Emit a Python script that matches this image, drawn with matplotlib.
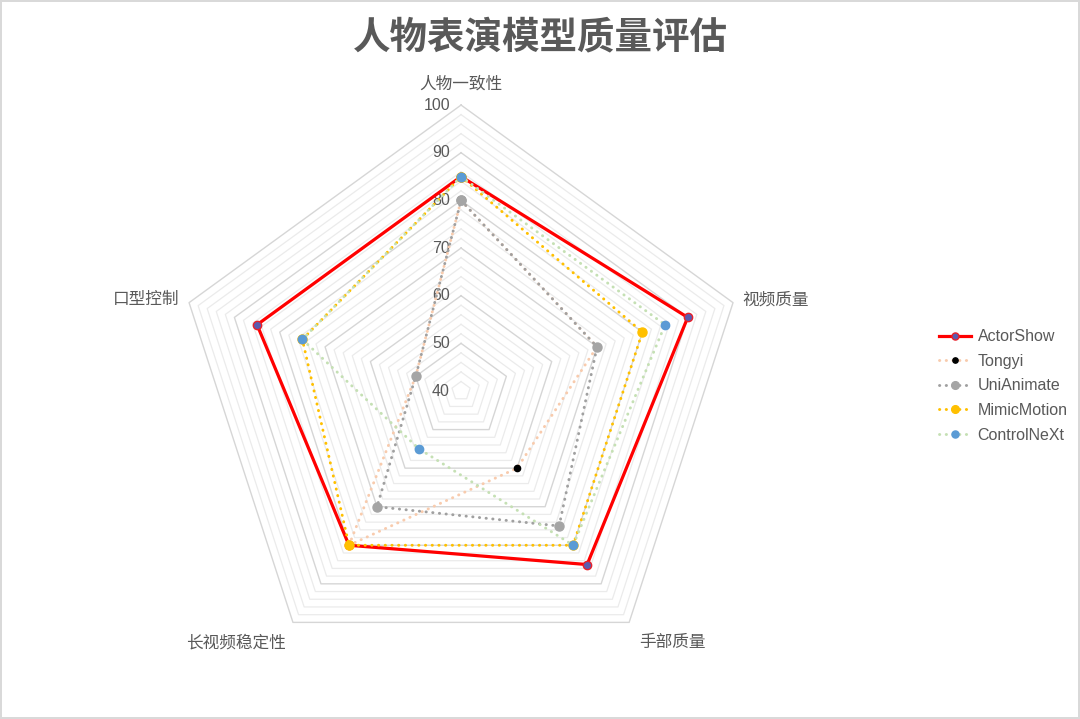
import numpy as np
import matplotlib.pyplot as plt

plt.rcParams['font.family'] = ['Liberation Sans', 'Noto Sans CJK SC']

# 维度与数据
categories = ["人物一致性", "视频质量", "手部质量", "长视频稳定性", "口型控制"]
actorshow = [85, 90, 85, 80, 85]
tongyi = [80, 70, 60, 80, 50]
unianimate = [80, 70, 75, 70, 50]
mimicmotion = [85, 80, 80, 80, 75]
controlnext = [85, 85, 80, 55, 75]
ticks = [40, 50, 60, 70, 80, 90, 100]

txt = "#595959"

angles = np.linspace(0, 2 * np.pi, len(categories), endpoint=False)
ang_closed = np.append(angles, angles[0])


def closed(vals):
    return np.append(vals, vals[0])


fig = plt.figure(figsize=(10.8, 7.19), dpi=100)
fig.patch.set_edgecolor("#D9D9D9")
fig.patch.set_linewidth(1.5)

ax = fig.add_axes([0.1621, 0.0584, 0.5296, 0.7955], projection="polar")
ax.set_theta_offset(np.pi / 2)
ax.set_theta_direction(-1)
ax.set_ylim(40, 100)
ax.axis("off")

# 五边形网格
for v in range(42, 101, 2):
    major = v % 10 == 0
    ax.plot(ang_closed, [v] * len(ang_closed),
            color="#D6D6D6" if major else "#EBEBEB",
            lw=1.0 if major else 0.9, zorder=1, clip_on=False)

# 刻度标签
for v in ticks:
    ax.annotate(str(v), xy=(0, v), xytext=(-8, 0), textcoords="offset points",
                ha="right", va="center", fontsize=11.5, color=txt)

# 维度标签
ax.annotate(categories[0], xy=(0, 100), xytext=(0, 15), textcoords="offset points",
            ha="center", va="center", fontsize=12, color=txt)
ax.annotate(categories[1], xy=(angles[1], 100), xytext=(7, 2), textcoords="offset points",
            ha="left", va="center", fontsize=12, color=txt)
ax.annotate(categories[2], xy=(angles[2], 100), xytext=(31, -14.5), textcoords="offset points",
            ha="center", va="center", fontsize=12, color=txt)
ax.annotate(categories[3], xy=(angles[3], 100), xytext=(-41, -14.5), textcoords="offset points",
            ha="center", va="center", fontsize=12, color=txt)
ax.annotate(categories[4], xy=(angles[4], 100), xytext=(-7, 2), textcoords="offset points",
            ha="right", va="center", fontsize=12, color=txt)

dot = (0, (0.1, 2.2))

ax.plot(ang_closed, closed(actorshow), color="#FF0000", lw=2.3, marker="o",
        ms=6, mfc="#5B5BAE", mec="#E8202A", mew=1.0, label="ActorShow",
        zorder=3, clip_on=False)
ax.plot(ang_closed, closed(tongyi), color="#F8CBAD", lw=2.1, ls=dot,
        dash_capstyle="round", marker="o", ms=4.5, mfc="black", mec="black",
        label="Tongyi", zorder=3, clip_on=False)
ax.plot(ang_closed, closed(unianimate), color="#A0A0A0", lw=2.1, ls=dot,
        dash_capstyle="round", marker="o", ms=6.5, mfc="#A5A5A5", mec="#A5A5A5",
        label="UniAnimate", zorder=3, clip_on=False)
ax.plot(ang_closed, closed(mimicmotion), color="#FFC000", lw=2.1, ls=dot,
        dash_capstyle="round", marker="o", ms=6.5, mfc="#FFC000", mec="#FFC000",
        label="MimicMotion", zorder=3, clip_on=False)
ax.plot(ang_closed, closed(controlnext), color="#C5E0B4", lw=2.1, ls=dot,
        dash_capstyle="round", marker="o", ms=6, mfc="#5B9BD5", mec="#5B9BD5",
        label="ControlNeXt", zorder=3, clip_on=False)

fig.legend(loc="center left", bbox_to_anchor=(925 / 1080, 1 - 386 / 719),
           frameon=False, fontsize=11.5, labelcolor=txt, handlelength=2.0,
           handletextpad=0.4, labelspacing=0.6, markerscale=0.85)

fig.text(0.5, 1 - 37 / 719, "人物表演模型质量评估", ha="center", va="center",
         fontsize=27, fontweight="bold", color=txt,
         family=["Noto Sans CJK SC", "DejaVu Sans"])

fig.savefig("out.png", dpi=100)
